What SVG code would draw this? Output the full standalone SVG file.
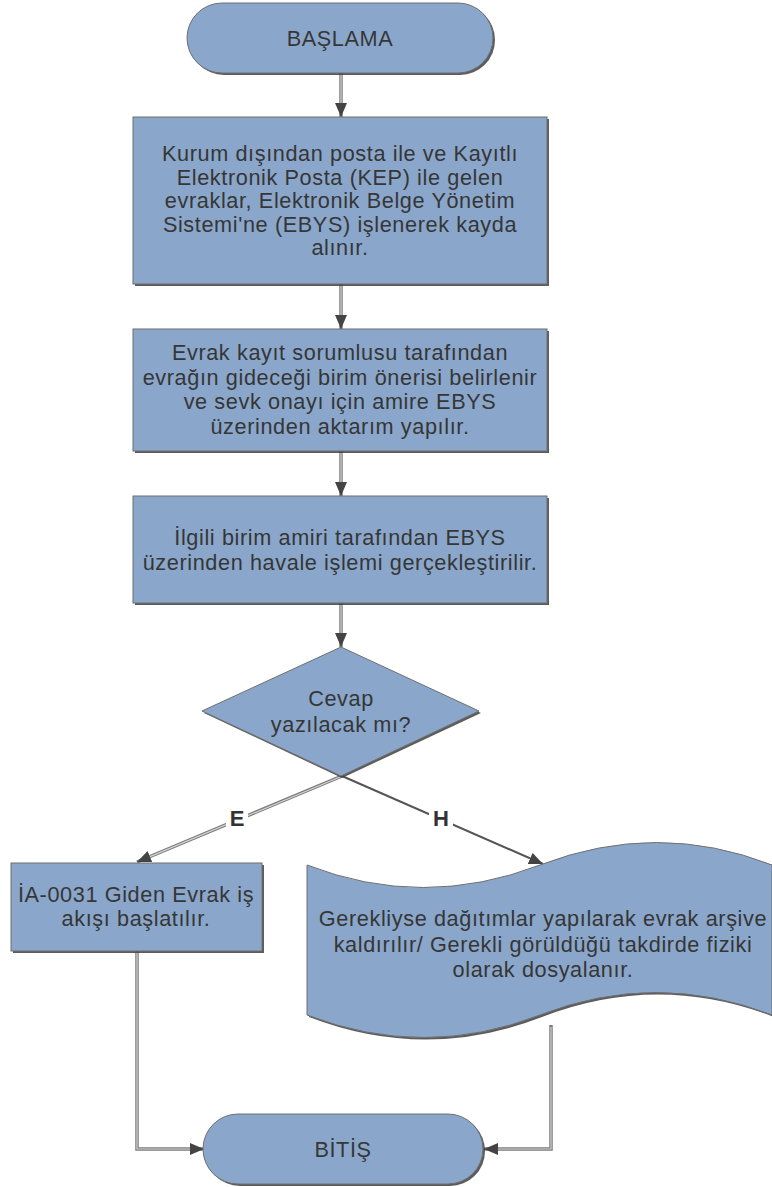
<svg xmlns="http://www.w3.org/2000/svg" width="772" height="1187" viewBox="0 0 772 1187">
<defs>
<marker id="arr" viewBox="0 0 14 12" refX="14" refY="6" markerWidth="14" markerHeight="12" orient="auto" markerUnits="userSpaceOnUse"><path d="M0,0 L14,6 L0,12 z" fill="#444"/></marker>
</defs>
<style>
.sh{fill:#3f3f3f;opacity:0.85}
.nd{fill:#8aa7cb;stroke:#6f6f6f;stroke-width:1}
.tx{font-family:"Liberation Sans",Arial,sans-serif;font-size:21.7px;fill:#363636;text-anchor:middle;letter-spacing:0.6px}
.lb{font-family:"Liberation Sans",Arial,sans-serif;font-size:22px;font-weight:bold;fill:#333;text-anchor:middle}
.ln{fill:none;stroke:#7c7c7c;stroke-width:3.5}
.lnc{fill:none;stroke:#d4d4d4;stroke-width:1.2}
.ls{fill:none;stroke:#555;stroke-width:2}
</style>
<rect width="772" height="1187" fill="#fff"/>
<g id="connectors">
<path class="ln" d="M341,73 V117" marker-end="url(#arr)"/>
<path class="lnc" d="M341,74 V103"/>
<path class="ln" d="M341,284 V329" marker-end="url(#arr)"/>
<path class="lnc" d="M341,286 V315"/>
<path class="ln" d="M341,451 V496" marker-end="url(#arr)"/>
<path class="lnc" d="M341,453 V482"/>
<path class="ln" d="M341,603 V647" marker-end="url(#arr)"/>
<path class="lnc" d="M341,605 V633"/>
<path class="ln" d="M342,776 L137,862" marker-end="url(#arr)"/>
<path class="lnc" d="M340,777 L150,856.6"/>
<path class="ls" d="M342,776 L543,864" marker-end="url(#arr)"/>
<path class="ln" d="M137,951 V1149 H204" marker-end="url(#arr)"/>
<path class="lnc" d="M137,952 V1149 H190"/>
<path class="ln" d="M551,1025 V1149 H484" marker-end="url(#arr)"/>
<path class="lnc" d="M551,1027 V1149 H498"/>
<rect x="226" y="805" width="22" height="26" fill="#fff"/>
<text class="lb" x="237" y="826">E</text>
<rect x="429" y="805" width="24" height="26" fill="#fff"/>
<text class="lb" x="441" y="826">H</text>
</g>
<g id="start">
<rect class="sh" x="189" y="5" width="306" height="70" rx="35"/>
<rect class="nd" x="187" y="3" width="306" height="70" rx="35"/>
<text class="tx" x="340" y="46">BAŞLAMA</text>
</g>
<g id="step1">
<rect class="sh" x="135" y="119" width="414" height="167"/>
<rect class="nd" x="133" y="117" width="414" height="167"/>
<text class="tx" x="340" y="161">Kurum dışından posta ile ve Kayıtlı</text>
<text class="tx" x="340" y="184.5">Elektronik Posta (KEP) ile gelen</text>
<text class="tx" x="340" y="208">evraklar, Elektronik Belge Yönetim</text>
<text class="tx" x="340" y="231.5">Sistemi'ne (EBYS) işlenerek kayda</text>
<text class="tx" x="340" y="255">alınır.</text>
</g>
<g id="step2">
<rect class="sh" x="135" y="331" width="414" height="122"/>
<rect class="nd" x="133" y="329" width="414" height="122"/>
<text class="tx" x="340" y="360">Evrak kayıt sorumlusu tarafından</text>
<text class="tx" x="340" y="384.5">evrağın gideceği birim önerisi belirlenir</text>
<text class="tx" x="340" y="409">ve sevk onayı için amire EBYS</text>
<text class="tx" x="340" y="433.5">üzerinden aktarım yapılır.</text>
</g>
<g id="step3">
<rect class="sh" x="135" y="498" width="414" height="107"/>
<rect class="nd" x="133" y="496" width="414" height="107"/>
<text class="tx" x="340" y="545">İlgili birim amiri tarafından EBYS</text>
<text class="tx" x="340" y="570">üzerinden havale işlemi gerçekleştirilir.</text>
</g>
<g id="decision">
<polygon class="sh" points="342,649 481,713 342,778 204,713"/>
<polygon class="nd" points="341,647 479,711 341,776 202,711"/>
<text class="tx" x="341" y="706">Cevap</text>
<text class="tx" x="341" y="732">yazılacak mı?</text>
</g>
<g id="giden">
<rect class="sh" x="13" y="865" width="251" height="88"/>
<rect class="nd" x="11" y="863" width="251" height="88"/>
<text class="tx" x="136" y="902">İA-0031 Giden Evrak iş</text>
<text class="tx" x="136" y="926">akışı başlatılır.</text>
</g>
<g id="arsiv">
<path class="sh" d="M309,867 Q425,912 542,867 T774,867 V1017 Q658,972 542,1017 T309,1017 Z"/>
<path class="nd" d="M307,865 Q423,910 540,865 T772,865 V1015 Q656,970 540,1015 T307,1015 Z"/>
<text class="tx" x="543" y="926">Gerekliyse dağıtımlar yapılarak evrak arşive</text>
<text class="tx" x="543" y="952">kaldırılır/ Gerekli görüldüğü takdirde fiziki</text>
<text class="tx" x="543" y="977">olarak dosyalanır.</text>
</g>
<g id="end">
<rect class="sh" x="205" y="1116" width="280" height="70" rx="35"/>
<rect class="nd" x="203" y="1114" width="280" height="70" rx="35"/>
<text class="tx" x="343" y="1157">BİTİŞ</text>
</g>
</svg>
